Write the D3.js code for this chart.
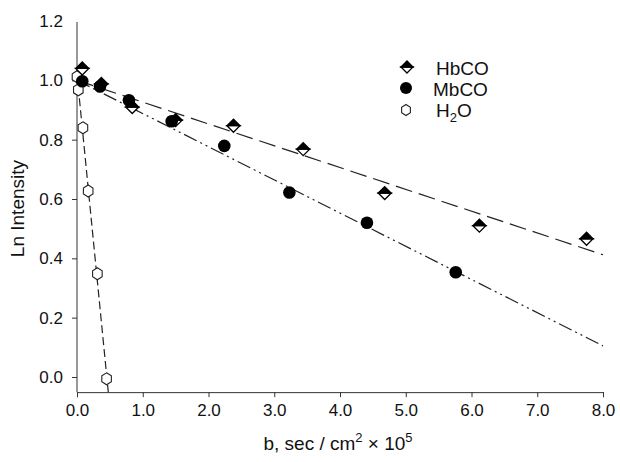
<!DOCTYPE html>
<html>
<head>
<meta charset="utf-8">
<script src="https://cdn.jsdelivr.net/npm/d3@7"></script>
<style>
  body { margin: 0; background: #fff; }
  text { font-family: "Liberation Sans", Arial, sans-serif; }
</style>
</head>
<body>
<svg id="chart"></svg>
<script>
const width = 620;
const height = 462;

// Data
const hbcoX = [0.08, 0.37, 0.84, 1.5, 2.38, 3.44, 4.68, 6.12, 7.75];
const hbcoY = [1.04, 0.988, 0.91, 0.866, 0.847, 0.768, 0.62, 0.51, 0.466];
const mbcoX = [0.08, 0.35, 0.79, 1.44, 2.24, 3.23, 4.41, 5.76];
const mbcoY = [0.997, 0.979, 0.933, 0.862, 0.779, 0.622, 0.52, 0.353];
const h2oX = [0.0, 0.02, 0.09, 0.17, 0.31, 0.45];
const h2oY = [1.012, 0.968, 0.84, 0.627, 0.348, -0.006];

// Fitted lines (endpoints in data units)
const hbcoFit = [[0, 1.0], [8, 0.412]];
const mbcoFit = [[0, 1.0], [8, 0.105]];
const h2oFit = [[0, 1.02], [0.476, -0.051]];

const xTicks = [0, 1, 2, 3, 4, 5, 6, 7, 8];
const yTicks = [0, 0.2, 0.4, 0.6, 0.8, 1.0, 1.2];

const svg = d3.select("#chart")
  .attr("width", width)
  .attr("height", height);

const x = d3.scaleLinear().domain([0, 8]).range([77, 603]);
const y = d3.scaleLinear().domain([0, 1.2]).range([377, 21]);
const yBottom = -0.051; // axis line sits a bit below zero

const axisColor = "#333";
const tickFont = 17;

// X axis
const xAxis = svg.append("g")
  .attr("transform", `translate(0,${y(yBottom)})`)
  .call(d3.axisBottom(x).tickValues(xTicks).tickFormat(d3.format(".1f")).tickSizeOuter(0).tickSize(5).tickPadding(7));
xAxis.select(".domain").attr("stroke", axisColor);
xAxis.selectAll(".tick line").attr("stroke", axisColor);
xAxis.selectAll("text").attr("font-size", tickFont).attr("fill", "#111")
  .attr("font-family", "Liberation Sans, Arial, sans-serif");

// Y axis
const yAxis = svg.append("g")
  .attr("transform", `translate(${x(0)},0)`)
  .call(d3.axisLeft(y).tickValues(yTicks).tickFormat(d3.format(".1f")).tickSizeOuter(0).tickSize(5).tickPadding(9));
yAxis.select(".domain").attr("d", `M0,${y(1.2) + 1}V${y(yBottom)}`).attr("stroke", axisColor);
yAxis.selectAll(".tick line").attr("stroke", axisColor);
yAxis.selectAll(".tick").filter(d => d === 1.2).select("line").remove();
yAxis.selectAll("text").attr("font-size", tickFont).attr("fill", "#111")
  .attr("font-family", "Liberation Sans, Arial, sans-serif");

// Axis titles
svg.append("text")
  .attr("transform", `translate(24,${(y(1.2) + y(yBottom)) / 2 + 2}) rotate(-90)`)
  .attr("text-anchor", "middle")
  .attr("font-size", 19)
  .attr("fill", "#111")
  .text("Ln Intensity");

const xt = svg.append("text")
  .attr("x", 338)
  .attr("y", 450)
  .attr("text-anchor", "middle")
  .attr("font-size", 19)
  .attr("fill", "#111");
xt.append("tspan").text("b, sec / cm");
xt.append("tspan").attr("font-size", 13).attr("dy", -8).text("2");
xt.append("tspan").attr("dy", 8).text(" \u00d7 10");
xt.append("tspan").attr("font-size", 13).attr("dy", -8).text("5");

// Fit lines
const line = d3.line().x(d => x(d[0])).y(d => y(d[1]));
svg.append("path").datum(hbcoFit).attr("d", line)
  .attr("fill", "none").attr("stroke", "#222").attr("stroke-width", 1.2)
  .attr("stroke-dasharray", "17,7");
svg.append("path").datum(mbcoFit).attr("d", line)
  .attr("fill", "none").attr("stroke", "#222").attr("stroke-width", 1.2)
  .attr("stroke-dasharray", "14,4,2,4,2,4");
svg.append("path").datum(h2oFit).attr("d", line)
  .attr("fill", "none").attr("stroke", "#222").attr("stroke-width", 1.2)
  .attr("stroke-dasharray", "8,4");

// Marker drawers
function drawDiamond(g, cx, cy, r) {
  g.append("path")
    .attr("d", `M${cx - r},${cy}L${cx},${cy + r}L${cx + r},${cy}Z`)
    .attr("fill", "#fff").attr("stroke", "#000").attr("stroke-width", 1.3);
  g.append("path")
    .attr("d", `M${cx - r},${cy}L${cx},${cy - r}L${cx + r},${cy}Z`)
    .attr("fill", "#000").attr("stroke", "#000").attr("stroke-width", 1.3);
}
function drawHex(g, cx, cy, r) {
  const pts = d3.range(6).map(i => {
    const a = Math.PI / 3 * i - Math.PI / 2;
    return [cx + r * 0.92 * Math.cos(a), cy + r * Math.sin(a)];
  });
  g.append("path")
    .attr("d", "M" + pts.join("L") + "Z")
    .attr("fill", "#fff").attr("stroke", "#222").attr("stroke-width", 1.1);
}

const marks = svg.append("g");
h2oX.forEach((v, i) => drawHex(marks, x(v), y(h2oY[i]), 6));
hbcoX.forEach((v, i) => drawDiamond(marks, x(v), y(hbcoY[i]), 6.5));
mbcoX.forEach((v, i) => {
  marks.append("circle")
    .attr("cx", x(v)).attr("cy", y(mbcoY[i])).attr("r", 6.3)
    .attr("fill", "#000");
});

// Legend
const legend = svg.append("g");
drawDiamond(legend, 407, 67, 6);
legend.append("circle").attr("cx", 406).attr("cy", 88).attr("r", 6).attr("fill", "#000");
drawHex(legend, 406, 110, 5.5);

legend.append("text").attr("x", 436).attr("y", 75).attr("font-size", 19).attr("fill", "#111").text("HbCO");
legend.append("text").attr("x", 433).attr("y", 96).attr("font-size", 19).attr("fill", "#111").text("MbCO");
const h2oLabel = legend.append("text").attr("x", 436).attr("y", 117).attr("font-size", 19).attr("fill", "#111");
h2oLabel.append("tspan").text("H");
h2oLabel.append("tspan").attr("font-size", 13).attr("dy", 5).text("2");
h2oLabel.append("tspan").attr("dy", -5).text("O");
</script>
</body>
</html>
